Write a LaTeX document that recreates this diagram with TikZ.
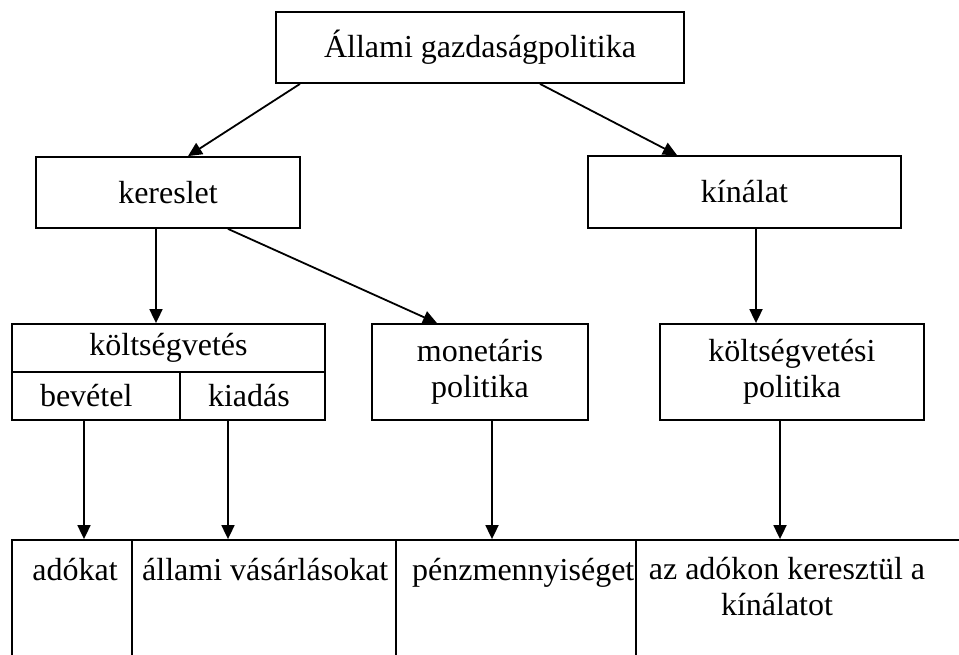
\documentclass[tikz,border=0pt]{standalone}
\usepackage{fontspec}
\setmainfont{Liberation Serif}
\usetikzlibrary{arrows.meta}
\begin{document}
\begin{tikzpicture}[x=1pt,y=-1pt,
  box/.style={draw, line width=1.8pt, rectangle, inner sep=0pt, align=center,
    font=\fontsize{32}{36}\selectfont},
  lbl/.style={inner sep=0pt, align=center, font=\fontsize{32}{36}\selectfont},
  arr/.style={line width=1.8pt, -{Triangle[length=14pt,width=13pt]}}]
\clip (0,0) rectangle (959,655);
% boxes
\node[box, minimum width=408pt, minimum height=71pt] (top) at (480,47.5) {Állami gazdaságpolitika};
\node[box, minimum width=264pt, minimum height=71pt] (kereslet) at (168,192.5) {kereslet};
\node[box, minimum width=313pt, minimum height=72pt] (kinalat) at (744.5,192) {kínálat};
\node[box, minimum width=313pt, minimum height=48pt] (kv) at (168.5,348) {költségvetés};
\node[box, minimum width=168pt, minimum height=48pt, text width=112pt, align=left] (bevetel) at (96,396) {bevétel};
\node[box, minimum width=145pt, minimum height=48pt, text width=89pt, align=left] (kiadas) at (252.5,396) {kiadás};
\node[box, minimum width=216pt, minimum height=96pt] (monetaris) at (480,372) {monetáris\\politika};
\node[box, minimum width=264pt, minimum height=96pt] (kvp) at (792,372) {költségvetési\\politika};
% bottom cells
\node[box, minimum width=120pt, minimum height=160pt] (c1) at (72,620) {};
\node[box, minimum width=264pt, minimum height=160pt] (c2) at (264,620) {};
\node[box, minimum width=240pt, minimum height=160pt] (c3) at (516,620) {};
\node[box, minimum width=364pt, minimum height=160pt] (c4) at (818,620) {};
\node[lbl, anchor=base] (t1) at (75,580) {adókat};
\node[lbl, anchor=base west] (t2) at (142,580) {állami vásárlásokat};
\node[lbl, anchor=base west] (t3) at (412,580) {pénzmennyiséget};
\node[lbl, anchor=north] (t4) at (787,557) {az adókon keresztül a\\kínálatot\hspace*{20pt}};
% connectors
\draw[arr] (top.south -| 300,0) -- (kereslet.north -| 188,0);
\draw[arr] (top.south -| 540,0) -- (kinalat.north -| 677,0);
\draw[arr] (kereslet.south -| 156,0) -- (kv.north -| 156,0);
\draw[arr] (kereslet.south -| 228,0) -- (monetaris.north -| 437,0);
\draw[arr] (kinalat.south -| 756,0) -- (kvp.north -| 756,0);
\draw[arr] (bevetel.south -| 84,0) -- (c1.north -| 84,0);
\draw[arr] (kiadas.south -| 228,0) -- (c2.north -| 228,0);
\draw[arr] (monetaris.south -| 492,0) -- (c3.north -| 492,0);
\draw[arr] (kvp.south -| 780,0) -- (c4.north -| 780,0);
\end{tikzpicture}
\end{document}
